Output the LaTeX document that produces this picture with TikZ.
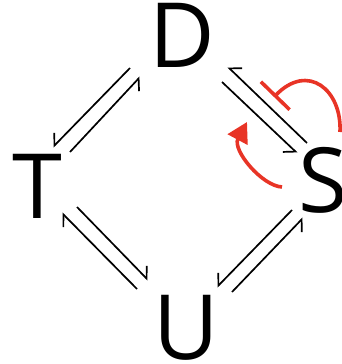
\documentclass[tikz,border=0pt]{standalone}
\usepackage{fontspec}
\setmainfont{Open Sans}
\usetikzlibrary{arrows.meta,calc}
\definecolor{inhred}{RGB}{232,52,38}
\tikzset{
  lab/.style={inner sep=0pt, text depth=0pt, anchor=base, font=\fontsize{90}{90}\selectfont},
  harpR/.style={line width=1.7pt, -{Straight Barb[harpoon,swap,length=9pt,width=18pt]}},
  harpL/.style={line width=1.7pt, -{Straight Barb[harpoon,length=9pt,width=18pt]}},
  redline/.style={inhred, line width=3.6pt},
}
\begin{document}
\begin{tikzpicture}[x=1pt,y=-1pt]
\useasboundingbox (0,0) rectangle (341,364);
\node[lab] (D) at (182,67) {D};
\node[lab] (T) at (37,218) {T};
\node[lab] (S) at (323,212) {S};
\node[lab] (U) at (186,359) {U};
% T-D pair
\draw[harpR] ($(D.base)+(-52,1)$) -- ($(T.base)+(16,-71)$);
\draw[harpR] ($(T.base)+(33,-66)$) -- ($(D.base)+(-42,10)$);
% T-U pair
\draw[harpL] ($(U.base)+(-49,-70)$) -- ($(T.base)+(25,-5)$);
\draw[harpL] ($(T.base)+(40,-11)$) -- ($(U.base)+(-38,-79)$);
% U-S pair
\draw[harpR] ($(S.base)+(-31,-2)$) -- ($(U.base)+(31,-72)$);
\draw[harpR] ($(U.base)+(46,-67)$) -- ($(S.base)+(-20,6)$);
% D-S pair
\draw[harpR] ($(S.base)+(-16,-69)$) -- ($(D.base)+(46,0)$);
\draw[harpR] ($(D.base)+(40,15)$) -- ($(S.base)+(-26,-59)$);
% red inhibition
\coordinate (i0) at ($(S.base)+(17,-80)$);
\coordinate (i1) at ($(S.base)+(-49,-115)$);
\draw[redline, -{Bar[width=40pt,line width=3.6pt]}] (i0) .. controls ($(S.base)+(19,-122)$) and ($(S.base)+(-15,-150)$) .. (i1);
% red activation
\coordinate (a0) at ($(S.base)+(-41,-25)$);
\coordinate (a1) at ($(S.base)+(-76,-90)$);
\draw[redline, -{Triangle[length=20pt,width=22pt]}] (a0) .. controls ($(S.base)+(-61,-26)$) and ($(S.base)+(-91,-62)$) .. (a1);
\end{tikzpicture}
\end{document}
